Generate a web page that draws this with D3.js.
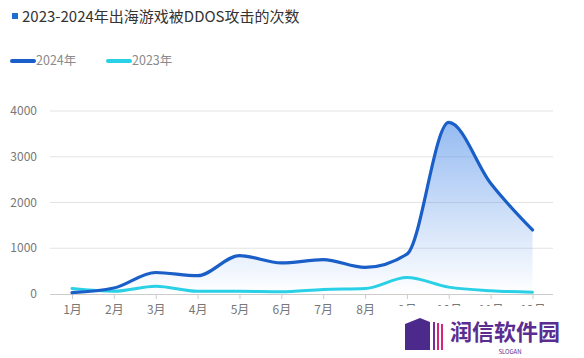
<!DOCTYPE html>
<html><head><meta charset="utf-8">
<script src="https://cdn.jsdelivr.net/npm/d3@7"></script>
<style>body{margin:0;background:#fff;}svg{display:block;font-family:"Noto Sans CJK SC","Noto Sans",sans-serif;}</style>
</head><body>
<svg id="c" width="584" height="358"></svg>
<script>
const months = ["1月","2月","3月","4月","5月","6月","7月","8月","9月","10月","11月","12月"];
const series2024 = [30,130,470,400,840,680,750,580,870,3750,2420,1400];
const series2023 = [120,60,170,60,60,50,100,120,360,150,70,40];
const yTicks = [0,1000,2000,3000,4000];
const title = "2023-2024年出海游戏被DDOS攻击的次数";
const legendNames = ["2024年","2023年"];

const svg = d3.select("#c");
const x = d3.scalePoint().domain(months).range([72,532.5]);
const y = d3.scaleLinear().domain([0,4000]).range([294,111]);

// title
svg.append("rect").attr("x",12).attr("y",13).attr("width",6).attr("height",6).attr("fill","#1f6fd1");
svg.append("text").attr("x",22).attr("y",22).attr("font-size",15).attr("fill","#333").text(title);

// legend
const lc = ["#1a5fc8","#29d0e6"];
const lx = [12,108];
legendNames.forEach((n,i)=>{
  svg.append("line").attr("x1",lx[i]).attr("x2",lx[i]+22).attr("y1",61).attr("y2",61)
    .attr("stroke",lc[i]).attr("stroke-width",4).attr("stroke-linecap","round");
  svg.append("text").attr("x",lx[i]+24).attr("y",65).attr("font-size",12.5).attr("fill","#8a8a8a").text(n);
});

// grid
svg.append("g").selectAll("line").data(yTicks.filter(d=>d>0)).join("line")
  .attr("x1",50).attr("x2",553).attr("y1",d=>y(d)).attr("y2",d=>y(d))
  .attr("stroke","#e3e3e3").attr("stroke-width",1);
svg.append("g").selectAll("text").data(yTicks).join("text")
  .attr("x",37).attr("y",d=>y(d)+4).attr("text-anchor","end").attr("font-size",12).attr("fill","#777").text(d=>d);

// x axis
const xa = svg.append("g").attr("transform","translate(0,294)")
  .call(d3.axisBottom(x).tickSize(5).tickPadding(6));
xa.select(".domain").attr("d","M50,0.5H553").attr("stroke","#ccc");
xa.selectAll(".tick line").attr("stroke","#ccc");
xa.selectAll(".tick text").attr("font-size",12).attr("fill","#777").attr("font-family","Noto Sans CJK SC, sans-serif");

// gradient
const defs = svg.append("defs");
const g = defs.append("linearGradient").attr("id","ga").attr("x1",0).attr("y1",0).attr("x2",0).attr("y2",1);
g.append("stop").attr("offset","0%").attr("stop-color","#4f8ee8").attr("stop-opacity",0.6);
g.append("stop").attr("offset","100%").attr("stop-color","#4f8ee8").attr("stop-opacity",0.0);

const curve = d3.curveMonotoneX;
const area = d3.area().x((d,i)=>x(months[i])).y0(y(0)).y1(d=>y(d)).curve(curve);
svg.append("path").datum(series2024).attr("d",area).attr("fill","url(#ga)");

const line = d3.line().x((d,i)=>x(months[i])).y(d=>y(d)).curve(curve);
svg.append("path").datum(series2023).attr("d",line).attr("fill","none").attr("stroke","#29d0e6").attr("stroke-width",3).attr("stroke-linecap","round");
svg.append("path").datum(series2024).attr("d",line).attr("fill","none").attr("stroke","#1a5fc8").attr("stroke-width",3.2).attr("stroke-linecap","round");

// watermark logo
const wm = svg.append("g");
wm.append("rect").attr("x",395).attr("y",306).attr("width",189).attr("height",52).attr("fill","#fff");
wm.append("path").attr("d","M405,324 L420,318 L430,322 L430,350 L405,350 Z").attr("fill","#4b2a8c");
[433,437,441].forEach((px,i)=>wm.append("rect").attr("x",px).attr("y",322+i).attr("width",2).attr("height",28-i).attr("fill",i===0?"#7a2a9c":"#d6267a"));
wm.append("text").attr("x",450).attr("y",340).attr("font-size",22).attr("font-weight","bold").attr("fill","#5b2d91").text("润信软件园");
wm.append("text").attr("x",510).attr("y",354).attr("text-anchor","middle").attr("font-size",6).attr("fill","#5b2d91").text("SLOGAN");
</script>
</body></html>
